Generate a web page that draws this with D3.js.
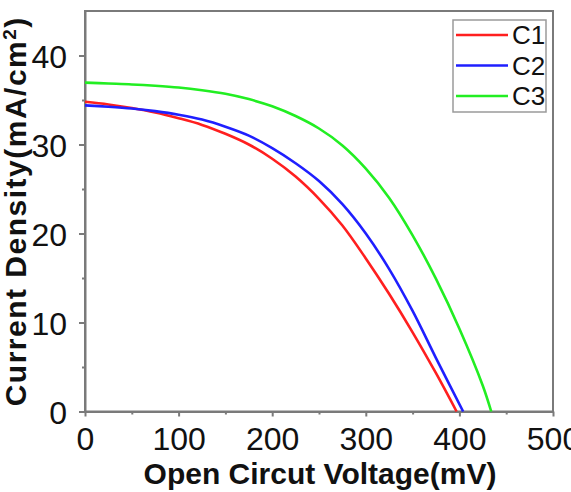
<!DOCTYPE html>
<html>
<head>
<meta charset="utf-8">
<script src="https://cdn.jsdelivr.net/npm/d3@7"></script>
<style>
  body { margin: 0; background: #fff; }
  svg { display: block; font-family: "Liberation Sans", Arial, sans-serif; }
</style>
</head>
<body>
<div id="container"></div>
<script>
// J-V curves: [voltage mV, current density mA/cm2]
let c1 = [[0,34.8],[25,34.5],[50,34.1],[75,33.6],[100,32.95],[125,32.2],[150,31.2],[175,30.0],
  [200,28.4],[225,26.4],[250,23.9],[275,20.9],[300,17.2],[325,13.2],[350,8.9],[375,4.3],[397,0]];
let c2 = [[0,34.4],[25,34.25],[50,34.05],[75,33.75],[100,33.35],[125,32.8],[150,32.0],[175,31.0],
  [200,29.6],[225,27.9],[250,25.9],[275,23.3],[300,20.0],[325,16.0],[350,11.3],[375,6.0],[404,0]];
let c3 = [[0,36.95],[25,36.85],[50,36.75],[75,36.6],[100,36.4],[125,36.1],[150,35.7],[175,35.1],
  [200,34.3],[225,33.2],[250,31.8],[275,29.9],[300,27.3],[325,24.0],[350,19.8],[375,14.9],
  [400,9.3],[425,2.9],[434,0]];

let seriesNames = ["C1", "C2", "C3"];
let seriesColors = ["#ff1f1f", "#1f1fff", "#22ee22"];

let xTicks = [0, 100, 200, 300, 400, 500];
let xMinor = [50, 150, 250, 350, 450];
let yTicks = [0, 10, 20, 30, 40];
let yMinor = [5, 15, 25, 35];

let w = 571;
let h = 492;
let padLeft = 85, padRight = 553, padTop = 11, padBottom = 411.5;
let axisColor = "#7a7a7a";

let viz = d3.select("#container")
  .append("svg")
    .attr("width", w)
    .attr("height", h);

let xScale = d3.scaleLinear().domain([0, 500]).range([padLeft, padRight]);
let yScale = d3.scaleLinear().domain([0, 45]).range([padBottom, padTop]);

// frame (top and right)
viz.append("rect")
  .attr("x", padLeft).attr("y", padTop)
  .attr("width", padRight - padLeft).attr("height", padBottom - padTop)
  .attr("fill", "none").attr("stroke", axisColor).attr("stroke-width", 2);

// minor ticks first
viz.append("g")
  .attr("transform", "translate(0," + padBottom + ")")
  .call(d3.axisBottom(xScale).tickValues(xMinor).tickSize(3).tickFormat(""))
  .call(g => g.select(".domain").remove());
viz.append("g")
  .attr("transform", "translate(" + padLeft + ",0)")
  .call(d3.axisLeft(yScale).tickValues(yMinor).tickSize(3).tickFormat(""))
  .call(g => g.select(".domain").remove());

let xAxisGroup = viz.append("g")
  .attr("transform", "translate(0," + padBottom + ")")
  .call(d3.axisBottom(xScale).tickValues(xTicks).tickSize(5).tickSizeOuter(0).tickPadding(11));
let yAxisGroup = viz.append("g")
  .attr("transform", "translate(" + padLeft + ",0)")
  .call(d3.axisLeft(yScale).tickValues(yTicks).tickSize(6).tickSizeOuter(0).tickPadding(12));

viz.selectAll(".tick line").attr("stroke", axisColor).attr("stroke-width", 2);
viz.selectAll(".domain").attr("stroke", axisColor).attr("stroke-width", 2);
viz.selectAll(".tick text")
  .attr("fill", "#111")
  .style("font-size", "32px")
  .style("font-family", "'Liberation Sans', Arial, sans-serif");
yAxisGroup.selectAll(".tick text").attr("dy", "0.36em");

// curves
let lineMaker = d3.line()
  .x(d => xScale(d[0]))
  .y(d => yScale(d[1]))
  .curve(d3.curveCatmullRom.alpha(0.5));

let allSeries = [c1, c2, c3];
viz.append("g").selectAll("path")
  .data(allSeries)
  .enter().append("path")
    .attr("d", lineMaker)
    .attr("fill", "none")
    .attr("stroke", (d, i) => seriesColors[i])
    .attr("stroke-width", 2.6);

// legend
let legend = viz.append("g");
legend.append("rect")
  .attr("x", 453).attr("y", 20).attr("width", 93).attr("height", 92)
  .attr("fill", "#fff").attr("stroke", "#9a9a9a").attr("stroke-width", 1.5);
seriesNames.forEach(function(name, i){
  let y = 35 + i * 30.5;
  legend.append("line")
    .attr("x1", 456).attr("x2", 508).attr("y1", y).attr("y2", y)
    .attr("stroke", seriesColors[i]).attr("stroke-width", 2.6);
  legend.append("text")
    .attr("x", 512).attr("y", y + 9)
    .style("font-size", "26px")
    .attr("fill", "#111")
    .text(name);
});

// axis titles
viz.append("text")
  .attr("x", 320).attr("y", 484)
  .attr("text-anchor", "middle")
  .style("font-size", "30px").style("font-weight", "bold")
  .attr("fill", "#111")
  .text("Open Circut Voltage(mV)");

let yTitle = viz.append("text")
  .attr("transform", "translate(26," + ((padTop + padBottom) / 2) + ") rotate(-90)")
  .attr("text-anchor", "middle")
  .style("font-size", "30px").style("font-weight", "bold")
  .style("letter-spacing", "1.5px")
  .attr("fill", "#111");
yTitle.append("tspan").text("Current Density(mA/cm");
yTitle.append("tspan").attr("baseline-shift", "super").style("font-size", "19px").text("2");
yTitle.append("tspan").text(")");
</script>
</body>
</html>
